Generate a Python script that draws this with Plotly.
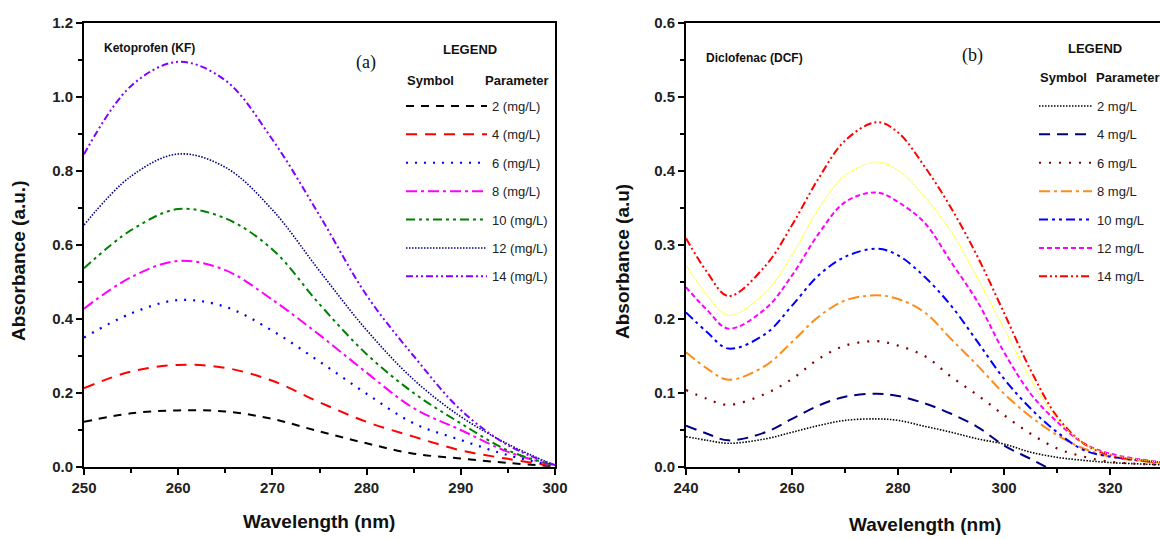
import plotly.graph_objects as go

# ---------------- data: panel (a) Ketoprofen ----------------
wl_a = [250, 255, 260, 265, 270, 275, 280, 285, 290, 295, 300]
kf_labels = ["2 (mg/L)", "4 (mg/L)", "6 (mg/L)", "8 (mg/L)", "10 (mg/L)", "12 (mg/L)", "14 (mg/L)"]
kf_2 = [0.122, 0.145, 0.153, 0.150, 0.130, 0.096, 0.064, 0.036, 0.023, 0.011, 0.002]
kf_4 = [0.213, 0.258, 0.276, 0.268, 0.233, 0.175, 0.122, 0.082, 0.045, 0.022, 0.002]
kf_6 = [0.350, 0.415, 0.451, 0.433, 0.368, 0.285, 0.198, 0.118, 0.073, 0.032, 0.003]
kf_8 = [0.428, 0.513, 0.557, 0.532, 0.452, 0.357, 0.255, 0.159, 0.100, 0.041, 0.003]
kf_10 = [0.537, 0.640, 0.697, 0.672, 0.588, 0.440, 0.305, 0.200, 0.118, 0.045, 0.004]
kf_12 = [0.654, 0.786, 0.846, 0.810, 0.695, 0.530, 0.370, 0.236, 0.136, 0.062, 0.004]
kf_14 = [0.845, 1.030, 1.095, 1.045, 0.885, 0.680, 0.464, 0.300, 0.154, 0.059, 0.005]

# ---------------- data: panel (b) Diclofenac ----------------
wl_b = [240, 244, 248, 255, 260, 265, 270, 276, 280, 285, 290, 295, 300, 305, 310, 315, 320, 330]
dcf_labels = ["2 mg/L", "4 mg/L", "6 mg/L", "8 mg/L", "10 mg/L", "12 mg/L", "14 mg/L"]
dcf_2 = [0.041, 0.036, 0.032, 0.038, 0.047, 0.056, 0.063, 0.065, 0.063, 0.055, 0.047, 0.038, 0.031, 0.020, 0.013, 0.009, 0.006, 0.003]
dcf_4 = [0.056, 0.045, 0.036, 0.047, 0.065, 0.083, 0.095, 0.099, 0.096, 0.086, 0.072, 0.054, 0.029, 0.011, -0.008, None, None, None]
dcf_6 = [0.104, 0.092, 0.084, 0.099, 0.119, 0.146, 0.164, 0.170, 0.164, 0.150, 0.122, 0.097, 0.070, 0.045, 0.025, 0.014, 0.007, 0.003]
dcf_8 = [0.155, 0.133, 0.118, 0.137, 0.169, 0.203, 0.225, 0.232, 0.227, 0.209, 0.173, 0.137, 0.099, 0.068, 0.043, 0.025, 0.014, 0.005]
dcf_10 = [0.209, 0.182, 0.160, 0.180, 0.218, 0.259, 0.284, 0.295, 0.286, 0.257, 0.218, 0.169, 0.119, 0.079, 0.047, 0.023, 0.014, 0.006]
dcf_12 = [0.243, 0.212, 0.187, 0.214, 0.259, 0.315, 0.358, 0.371, 0.358, 0.330, 0.277, 0.223, 0.155, 0.099, 0.061, 0.032, 0.018, 0.006]
dcf_extra = [0.273, 0.232, 0.205, 0.236, 0.286, 0.349, 0.394, 0.412, 0.401, 0.365, 0.318, 0.255, 0.187, 0.119, 0.065, 0.032, 0.017, 0.006]
dcf_14 = [0.309, 0.263, 0.231, 0.272, 0.327, 0.390, 0.441, 0.466, 0.452, 0.406, 0.350, 0.284, 0.208, 0.131, 0.068, 0.032, 0.016, 0.006]

FONT = "Liberation Sans, Arial, sans-serif"

fig = go.Figure()

kf_series = [kf_2, kf_4, kf_6, kf_8, kf_10, kf_12, kf_14]
kf_colors = ["#000000", "#ff0000", "#0000ff", "#ff00ff", "#008000", "#000080", "#8000ff"]
kf_dash = ["8px,7px", "11px,8px", "2px,7px", "11px,4px,3px,4px", "9px,4px,3px,4px,3px,4px", "1.5px,1.5px", "7px,3px,2px,3px,2px,3px"]
kf_width = [2, 2, 2.2, 2, 2, 1.6, 2]
for i, ys in enumerate(kf_series):
    fig.add_trace(go.Scatter(
        x=wl_a, y=ys, mode="lines", name=kf_labels[i],
        line=dict(color=kf_colors[i], dash=kf_dash[i], width=kf_width[i], shape="spline", smoothing=1.0),
        xaxis="x", yaxis="y", legend="legend", legendgroup="a%d" % i))

dcf_series = [dcf_2, dcf_4, dcf_6, dcf_8, dcf_10, dcf_12, dcf_14]
dcf_colors = ["#000000", "#000080", "#800000", "#ff8c1a", "#0000ff", "#ff00ff", "#ff0000"]
dcf_dash = ["1.5px,1.5px", "11px,7px", "2px,8px", "11px,4px,3px,4px", "9px,4px,3px,4px,3px,4px", "5px,3px", "8px,3px,2px,3px,2px,3px"]
dcf_width = [1.6, 2, 2.2, 2, 2, 2, 2]
for i, ys in enumerate(dcf_series):
    fig.add_trace(go.Scatter(
        x=wl_b, y=ys, mode="lines", name=dcf_labels[i],
        line=dict(color=dcf_colors[i], dash=dcf_dash[i], width=dcf_width[i], shape="spline", smoothing=1.0),
        xaxis="x2", yaxis="y2", legend="legend2", legendgroup="b%d" % i, connectgaps=False))
fig.add_trace(go.Scatter(
    x=wl_b, y=dcf_extra, mode="lines", showlegend=False,
    line=dict(color="#ffff00", dash="1px,1px", width=1.2, shape="spline", smoothing=1.0),
    xaxis="x2", yaxis="y2"))

axis_common = dict(
    showline=True, linecolor="black", linewidth=2, ticks="outside", ticklen=6, tickwidth=2,
    tickcolor="black", showgrid=False, zeroline=False, automargin=False,
    tickfont=dict(family=FONT, size=15, color="#222", weight="bold"),
)

fig.update_layout(
    width=1160, height=539, margin=dict(l=0, r=0, t=0, b=0, autoexpand=False),
    paper_bgcolor="white", plot_bgcolor="white",
    xaxis=dict(domain=[84/1160, 555/1160], range=[250, 300], dtick=10, anchor="y", mirror=True,
               minor=dict(dtick=5, ticks="outside", ticklen=4, tickwidth=1.5, tickcolor="black"), **axis_common),
    yaxis=dict(domain=[1-467/539, 1-23/539], range=[0, 1.2], dtick=0.2, tickformat=".1f", anchor="x", mirror=True,
               minor=dict(dtick=0.1, ticks="outside", ticklen=4, tickwidth=1.5, tickcolor="black"), **axis_common),
    xaxis2=dict(domain=[686/1160, 1.0], range=[240, 329.4], dtick=20, anchor="y2", mirror=True,
                minor=dict(dtick=10, ticks="outside", ticklen=4, tickwidth=1.5, tickcolor="black"), **axis_common),
    yaxis2=dict(domain=[1-467/539, 1-23/539], range=[0, 0.6], dtick=0.1, tickformat=".1f", anchor="x2", mirror=False,
                minor=dict(dtick=0.05, ticks="outside", ticklen=4, tickwidth=1.5, tickcolor="black"), **axis_common),
    legend=dict(x=401/1160, y=1-91/539, xanchor="left", yanchor="top", bgcolor="rgba(0,0,0,0)",
                font=dict(family=FONT, size=13, color="#222"), tracegroupgap=8.5, itemwidth=81,
                traceorder="grouped"),
    legend2=dict(x=1034/1160, y=1-91/539, xanchor="left", yanchor="top", bgcolor="rgba(0,0,0,0)",
                 font=dict(family=FONT, size=13, color="#222"), tracegroupgap=8.5, itemwidth=53,
                 traceorder="grouped"),
    showlegend=True,
)

ann = []
def A(text, x, y, size, bold=True, family=FONT, angle=0, xanchor="center"):
    ann.append(dict(text=("<b>%s</b>" % text) if bold else text, x=x/1160, y=1-y/539, xref="paper", yref="paper",
                    showarrow=False, xanchor=xanchor, yanchor="middle", textangle=angle,
                    font=dict(family=family, size=size, color="#111")))

A("Ketoprofen (KF)", 102, 48, 12, xanchor="left")
A("(a)", 366, 62, 18, bold=False, family="Liberation Serif, Times New Roman, serif")
A("LEGEND", 470, 50, 13)
A("Symbol", 430, 80, 13)
A("Parameter", 517, 80, 13)
A("Diclofenac (DCF)", 704, 58, 12, xanchor="left")
A("(b)", 972, 55, 18, bold=False, family="Liberation Serif, Times New Roman, serif")
A("LEGEND", 1095, 48, 13)
A("Symbol", 1063, 78, 13)
A("Parameter", 1128, 78, 13)
A("Absorbance (a.u.)", 18, 261, 19, angle=-90)
A("Absorbance (a.u)", 622, 262, 19, angle=-90)
A("Wavelength (nm)", 319, 521, 19)
A("Wavelength (nm)", 925, 524, 19)
fig.update_layout(annotations=ann)

fig.write_html("out.html")
